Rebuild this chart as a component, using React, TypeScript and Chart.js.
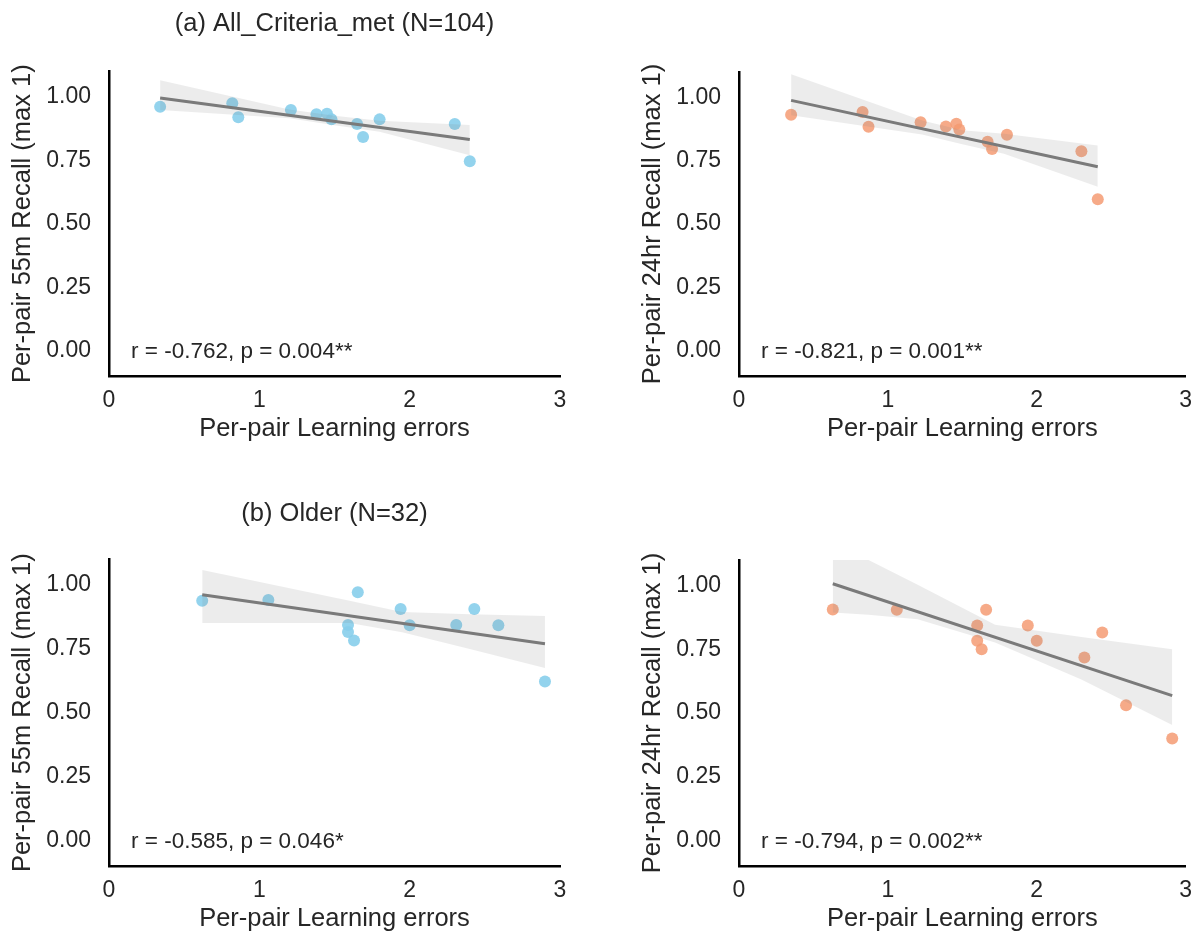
import React, { useEffect, useRef } from "react";
import { Chart, registerables } from "chart.js";

Chart.register(...registerables);

// ---------- data ----------
const xAll = [0.34, 0.82, 0.86, 1.21, 1.38, 1.45, 1.48, 1.65, 1.69, 1.80, 2.30, 2.40];
const recall55All = [0.961, 0.975, 0.919, 0.948, 0.931, 0.933, 0.911, 0.893, 0.842, 0.911, 0.893, 0.746];
const xAll24 = [0.35, 0.83, 0.87, 1.22, 1.39, 1.46, 1.48, 1.67, 1.70, 1.80, 2.30, 2.41];
const recall24All = [0.931, 0.942, 0.884, 0.902, 0.885, 0.896, 0.873, 0.825, 0.796, 0.852, 0.787, 0.598];

const xOld55 = [0.62, 1.06, 1.655, 1.59, 1.59, 1.63, 1.94, 2.0, 2.31, 2.43, 2.59, 2.90];
const recall55Old = [0.938, 0.941, 0.971, 0.843, 0.816, 0.783, 0.906, 0.842, 0.843, 0.906, 0.842, 0.622];
const xOld24 = [0.63, 1.06, 1.66, 1.60, 1.60, 1.63, 1.94, 2.0, 2.32, 2.44, 2.60, 2.91];
const recall24Old = [0.906, 0.905, 0.905, 0.843, 0.783, 0.750, 0.843, 0.783, 0.718, 0.816, 0.530, 0.400];

// regression fit lines (x ends, y ends)
const fitX_A55 = [0.34, 2.40];
const fitY_A55 = [0.995, 0.832];
const fitX_A24 = [0.35, 2.41];
const fitY_A24 = [0.988, 0.726];
const fitX_O55 = [0.62, 2.90];
const fitY_O55 = [0.962, 0.770];
const fitX_O24 = [0.63, 2.91];
const fitY_O24 = [1.007, 0.568];

// confidence bands
const bandX_A55 = [0.34, 1.2, 1.5, 1.8, 2.40];
const bandHi_A55 = [1.065, 0.95, 0.925, 0.906, 0.889];
const bandLo_A55 = [0.948, 0.915, 0.888, 0.862, 0.770];
const bandX_A24 = [0.35, 1.23, 1.5, 1.78, 2.41];
const bandHi_A24 = [1.091, 0.909, 0.87, 0.856, 0.81];
const bandLo_A24 = [0.929, 0.853, 0.815, 0.777, 0.647];
const bandX_O55 = [0.62, 1.6, 1.95, 2.4, 2.90];
const bandHi_O55 = [1.059, 0.938, 0.894, 0.885, 0.878];
const bandLo_O55 = [0.851, 0.851, 0.815, 0.749, 0.675];
const bandX_O24 = [0.63, 0.87, 1.2, 1.72, 2.3, 2.91];
const bandHi_O24 = [1.18, 1.10, 1.003, 0.846, 0.798, 0.75];
const bandLo_O24 = [0.894, 0.885, 0.868, 0.776, 0.631, 0.453];

const xTicks = [0, 1, 2, 3];
const yTicks = [0, 0.25, 0.5, 0.75, 1.0];

const titleA = "(a) All_Criteria_met (N=104)";
const titleB = "(b) Older (N=32)";
const yLabel55 = "Per-pair 55m Recall (max 1)";
const yLabel24 = "Per-pair 24hr Recall (max 1)";
const xLabel = "Per-pair Learning errors";
const notes = [
  "r = -0.762, p = 0.004**",
  "r = -0.821, p = 0.001**",
  "r = -0.585, p = 0.046*",
  "r = -0.794, p = 0.002**",
];

const BLUE = "rgba(135,206,235,0.9)";
const ORANGE = "rgba(244,155,115,0.85)";
const FONT = '"Liberation Sans", Arial, Helvetica, sans-serif';
const TXT = "#262626";

type Panel = {
  left: number; top: number; width: number; height: number;
  xs: number[]; ys: number[]; color: string;
  fitX: number[]; fitY: number[];
  bandX: number[]; bandHi: number[]; bandLo: number[];
  yTitle: string; title?: string; titlePad?: { top: number; bottom: number };
  padLeft: number; padRight: number; padTop: number;
  note: string;
};

const panels: Panel[] = [
  { left: 0, top: 0, width: 600, height: 476, xs: xAll, ys: recall55All, color: BLUE,
    fitX: fitX_A55, fitY: fitY_A55, bandX: bandX_A55, bandHi: bandHi_A55, bandLo: bandLo_A55,
    yTitle: yLabel55, title: titleA, titlePad: { top: 9, bottom: 31.8 }, padLeft: 0, padRight: 40, padTop: 0, note: notes[0] },
  { left: 600, top: 0, width: 603, height: 476, xs: xAll24, ys: recall24All, color: ORANGE,
    fitX: fitX_A24, fitY: fitY_A24, bandX: bandX_A24, bandHi: bandHi_A24, bandLo: bandLo_A24,
    yTitle: yLabel24, padLeft: 30, padRight: 14, padTop: 72, note: notes[1] },
  { left: 0, top: 466, width: 600, height: 500, xs: xOld55, ys: recall55Old, color: BLUE,
    fitX: fitX_O55, fitY: fitY_O55, bandX: bandX_O55, bandHi: bandHi_O55, bandLo: bandLo_O55,
    yTitle: yLabel55, title: titleB, titlePad: { top: 33, bottom: 29.8 }, padLeft: 0, padRight: 40, padTop: 0, note: notes[2] },
  { left: 600, top: 466, width: 603, height: 500, xs: xOld24, ys: recall24Old, color: ORANGE,
    fitX: fitX_O24, fitY: fitY_O24, bandX: bandX_O24, bandHi: bandHi_O24, bandLo: bandLo_O24,
    yTitle: yLabel24, padLeft: 30, padRight: 14, padTop: 94, note: notes[3] },
];

function PanelChart({ p }: { p: Panel }) {
  const ref = useRef<HTMLCanvasElement | null>(null);
  useEffect(() => {
    if (!ref.current) return;
    const notePlugin = {
      id: "note",
      afterDraw(chart: any) {
        const { ctx, chartArea } = chart;
        ctx.save();
        ctx.font = `22.5px ${FONT}`;
        ctx.fillStyle = TXT;
        ctx.textAlign = "left";
        ctx.textBaseline = "middle";
        ctx.fillText(p.note, chartArea.left + 22, chartArea.bottom - 24);
        ctx.restore();
      },
    };
    const chart = new Chart(ref.current, {
      type: "scatter",
      data: {
        datasets: [
          {
            data: p.xs.map((x, i) => ({ x, y: p.ys[i] })),
            backgroundColor: p.color,
            borderColor: "transparent",
            borderWidth: 0,
            pointRadius: 6,
            order: 3,
          },
          {
            data: p.bandX.map((x, i) => ({ x, y: p.bandHi[i] })),
            showLine: true,
            borderColor: "transparent",
            borderWidth: 0,
            pointRadius: 0,
            backgroundColor: "rgba(128,128,128,0.15)",
            fill: "+1",
            order: 2,
          },
          {
            data: p.bandX.map((x, i) => ({ x, y: p.bandLo[i] })),
            showLine: true,
            borderColor: "transparent",
            borderWidth: 0,
            pointRadius: 0,
            fill: false,
            order: 2,
          },
          {
            data: p.fitX.map((x, i) => ({ x, y: p.fitY[i] })),
            showLine: true,
            borderColor: "#7a7a7a",
            borderWidth: 3,
            pointRadius: 0,
            fill: false,
            order: 1,
          },
        ] as any,
      },
      options: {
        animation: false,
        responsive: false,
        maintainAspectRatio: false,
        events: [],
        layout: { padding: { left: p.padLeft, right: p.padRight, top: p.padTop, bottom: 0 } },
        plugins: {
          legend: { display: false },
          tooltip: { enabled: false },
          title: p.title
            ? {
                display: true,
                text: p.title,
                fullSize: false,
                color: TXT,
                font: { family: FONT, size: 25.5, weight: "normal" as any },
                padding: p.titlePad,
              }
            : { display: false },
        },
        scales: {
          x: {
            type: "linear",
            min: 0,
            max: 3,
            afterBuildTicks: (s: any) => { s.ticks = xTicks.map((v) => ({ value: v })); },
            afterFit: (s: any) => { s.height = 100; },
            grid: { display: false, drawTicks: false },
            border: { display: true, color: "#000", width: 2.5 },
            ticks: { color: TXT, font: { family: FONT, size: 23 }, padding: 11 },
            title: { display: true, text: xLabel, color: TXT, font: { family: FONT, size: 25.5 }, padding: { top: 0, bottom: 32 } },
          },
          y: {
            type: "linear",
            min: -0.1,
            max: 1.1,
            afterBuildTicks: (s: any) => { s.ticks = yTicks.map((v) => ({ value: v })); },
            afterFit: (s: any) => { s.width = 109; },
            grid: { display: false, drawTicks: false },
            border: { display: true, color: "#000", width: 2.5 },
            ticks: { color: TXT, font: { family: FONT, size: 23 }, padding: 18, callback: (v: any) => Number(v).toFixed(2) },
            title: { display: true, text: p.yTitle, color: TXT, font: { family: FONT, size: 25.5 }, padding: { top: 8, bottom: 0 } },
          },
        },
      },
      plugins: [notePlugin],
    } as any);
    return () => chart.destroy();
  }, [p]);
  return (
    <canvas
      ref={ref}
      width={p.width}
      height={p.height}
      style={{ position: "absolute", left: p.left, top: p.top, width: p.width, height: p.height }}
    />
  );
}

export default function App() {
  return (
    <div style={{ position: "fixed", left: 0, top: 0, width: 1203, height: 932, overflow: "hidden", background: "#fff" }}>
      {panels.map((p, i) => (
        <PanelChart key={i} p={p} />
      ))}
    </div>
  );
}
